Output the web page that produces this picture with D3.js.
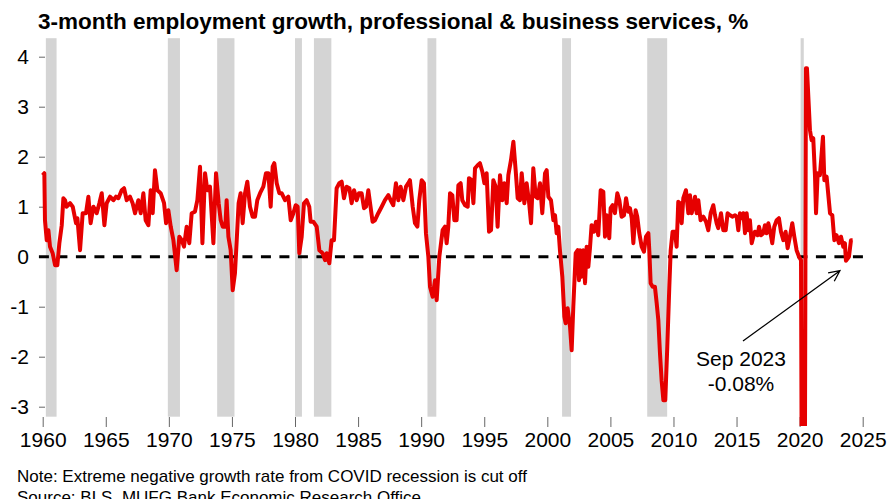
<!DOCTYPE html>
<html lang="en">
<head>
    <meta charset="UTF-8">
    <title>PBS employment growth</title>
    <style>
        body { margin: 0; background: #fff; }
        text { font-family: Arial, "Liberation Sans", sans-serif; }
    </style>
</head>
<body></body>
<script src="https://cdn.jsdelivr.net/npm/d3@7"></script>
<script>
    // recession periods (decimal years, peak -> trough)
    const recessions = [
        [1960.25, 1961.10], [1969.92, 1970.88], [1973.83, 1975.20],
        [1980.00, 1980.55], [1981.50, 1982.88], [1990.50, 1991.20],
        [2001.17, 2001.88], [2007.92, 2009.50], [2020.08, 2020.33]
    ];

    // 3-month growth, % ([year, value])
    const growth = [
        [1960.00, 1.63], [1960.13, 1.67], [1960.18, 0.73], [1960.32, 0.33], [1960.45, 0.53],
        [1960.58, 0.20], [1960.79, 0.07], [1960.98, -0.17], [1961.16, -0.17], [1961.32, 0.27],
        [1961.51, 0.63], [1961.64, 1.17], [1961.77, 1.13], [1961.90, 1.00], [1962.17, 1.07],
        [1962.38, 1.00], [1962.64, 0.67], [1962.75, 0.77], [1962.96, 0.13], [1963.17, 0.87],
        [1963.43, 0.87], [1963.62, 1.20], [1963.80, 0.67], [1964.02, 1.00], [1964.28, 0.87],
        [1964.49, 1.07], [1964.68, 1.27], [1964.89, 0.63], [1965.07, 1.07], [1965.34, 1.20],
        [1965.60, 1.13], [1965.81, 1.20], [1966.00, 1.17], [1966.26, 1.33], [1966.45, 1.37],
        [1966.66, 1.13], [1966.92, 1.20], [1967.13, 1.07], [1967.32, 0.87], [1967.58, 1.13],
        [1967.77, 0.87], [1967.98, 1.27], [1968.16, 0.73], [1968.38, 0.63], [1968.56, 1.33],
        [1968.72, 0.87], [1968.90, 1.73], [1969.09, 1.33], [1969.35, 1.27], [1969.62, 1.07],
        [1969.78, 0.67], [1969.96, 0.93], [1970.15, 0.60], [1970.36, 0.33], [1970.62, -0.27],
        [1970.83, 0.40], [1971.02, 0.33], [1971.20, 0.20], [1971.41, 0.60], [1971.62, 0.27],
        [1971.81, 0.87], [1972.07, 0.90], [1972.26, 1.13], [1972.47, 1.80], [1972.66, 0.27],
        [1972.87, 1.67], [1973.05, 1.33], [1973.26, 1.40], [1973.53, 0.27], [1973.74, 1.67],
        [1973.95, 1.07], [1974.11, 0.73], [1974.27, 0.60], [1974.48, 0.60], [1974.58, 1.13],
        [1974.72, 0.40], [1974.90, 0.13], [1975.06, -0.67], [1975.24, -0.33], [1975.38, 0.33],
        [1975.53, 1.07], [1975.69, 1.27], [1975.85, 0.67], [1976.04, 1.27], [1976.22, 1.50],
        [1976.43, 1.00], [1976.64, 0.80], [1976.83, 0.80], [1977.01, 1.13], [1977.23, 1.27],
        [1977.49, 1.40], [1977.70, 1.67], [1977.89, 1.67], [1978.07, 1.00], [1978.23, 1.80],
        [1978.36, 1.87], [1978.55, 1.47], [1978.76, 1.27], [1978.94, 1.27], [1979.21, 1.13],
        [1979.47, 1.20], [1979.66, 0.73], [1979.87, 0.87], [1980.05, 1.03], [1980.21, 1.00],
        [1980.34, 0.07], [1980.53, 0.40], [1980.71, 1.07], [1980.92, 1.13], [1981.13, 1.00],
        [1981.24, 0.70], [1981.45, 0.70], [1981.72, 0.60], [1981.93, 0.13], [1982.19, 0.07],
        [1982.38, -0.07], [1982.51, 0.07], [1982.72, -0.13], [1982.90, 0.33], [1983.09, 0.33],
        [1983.30, 1.37], [1983.51, 1.47], [1983.70, 1.50], [1983.88, 1.17], [1984.09, 1.40],
        [1984.31, 1.37], [1984.49, 1.07], [1984.68, 1.33], [1984.89, 1.13], [1985.07, 1.27],
        [1985.28, 1.27], [1985.47, 0.97], [1985.63, 1.00], [1985.81, 1.33], [1986.15, 0.70],
        [1986.34, 0.73], [1986.60, 0.87], [1986.87, 1.00], [1987.13, 1.13], [1987.40, 1.23],
        [1987.58, 1.13], [1987.79, 1.03], [1988.00, 1.47], [1988.19, 1.13], [1988.37, 1.40],
        [1988.59, 1.13], [1988.80, 1.40], [1988.98, 1.47], [1989.11, 1.53], [1989.33, 1.00],
        [1989.51, 0.67], [1989.70, 0.60], [1989.85, 1.13], [1990.04, 1.53], [1990.22, 1.47],
        [1990.38, 0.47], [1990.57, 0.00], [1990.70, -0.60], [1990.91, -0.80], [1991.10, -0.47],
        [1991.23, -0.87], [1991.44, 0.00], [1991.54, 0.20], [1991.70, 0.53], [1991.89, 0.60],
        [1992.02, 0.27], [1992.15, 0.60], [1992.29, 1.27], [1992.47, 1.23], [1992.63, 0.73],
        [1992.81, 0.73], [1992.95, 1.43], [1993.13, 1.47], [1993.26, 1.13], [1993.48, 1.03],
        [1993.69, 1.00], [1993.79, 1.57], [1994.00, 1.53], [1994.14, 1.07], [1994.27, 1.77],
        [1994.48, 1.83], [1994.66, 1.87], [1994.85, 1.70], [1995.01, 1.47], [1995.19, 1.67],
        [1995.38, 0.50], [1995.54, 0.53], [1995.72, 1.53], [1995.91, 1.40], [1996.06, 0.60],
        [1996.25, 1.63], [1996.43, 1.13], [1996.59, 1.47], [1996.78, 1.07], [1996.91, 1.63],
        [1997.12, 1.93], [1997.31, 2.30], [1997.49, 1.73], [1997.65, 1.17], [1997.83, 1.13],
        [1997.97, 1.67], [1998.18, 1.07], [1998.36, 1.47], [1998.55, 1.10], [1998.71, 0.67],
        [1998.89, 1.77], [1999.08, 1.20], [1999.23, 1.17], [1999.42, 1.47], [1999.60, 0.87],
        [1999.82, 1.67], [1999.95, 1.73], [2000.08, 1.20], [2000.29, 1.13], [2000.48, 0.73],
        [2000.61, 0.83], [2000.74, 0.47], [2000.87, 0.60], [2001.00, 0.13], [2001.19, -0.40],
        [2001.35, -1.20], [2001.45, -1.33], [2001.61, -1.03], [2001.80, -1.40], [2001.93, -1.87],
        [2002.06, -1.00], [2002.25, 0.07], [2002.41, 0.13], [2002.51, -0.47], [2002.59, 0.13],
        [2002.72, -0.40], [2002.85, 0.13], [2002.99, -0.53], [2003.12, 0.20], [2003.25, -0.20],
        [2003.38, 0.17], [2003.51, 0.63], [2003.70, 0.50], [2003.86, 0.70], [2004.04, 0.43],
        [2004.23, 1.33], [2004.44, 1.30], [2004.57, 0.40], [2004.70, 0.83], [2004.91, 0.37],
        [2005.02, 0.97], [2005.18, 1.03], [2005.36, 0.87], [2005.55, 1.27], [2005.71, 1.13],
        [2005.89, 0.80], [2006.08, 0.83], [2006.24, 1.17], [2006.42, 0.90], [2006.55, 0.97],
        [2006.69, 0.77], [2006.82, 0.27], [2007.00, 0.93], [2007.13, 0.80], [2007.29, 0.47],
        [2007.48, 0.20], [2007.66, 0.10], [2007.82, 0.40], [2008.01, 0.47], [2008.09, 0.10],
        [2008.19, -0.53], [2008.35, -0.60], [2008.53, -0.60], [2008.67, -0.93], [2008.80, -1.27],
        [2008.93, -1.93], [2009.06, -2.47], [2009.20, -2.87], [2009.35, -2.87], [2009.51, -1.80],
        [2009.67, -0.60], [2009.78, 0.13], [2009.93, 0.50], [2010.12, 0.50], [2010.25, 0.20],
        [2010.38, 1.10], [2010.52, 1.07], [2010.65, 0.67], [2010.78, 1.17], [2010.99, 1.33],
        [2011.18, 0.87], [2011.31, 1.23], [2011.44, 0.87], [2011.57, 1.00], [2011.71, 1.20],
        [2011.84, 0.87], [2011.97, 1.13], [2012.15, 0.73], [2012.37, 0.80], [2012.58, 0.70],
        [2012.76, 0.53], [2012.95, 0.87], [2013.16, 1.03], [2013.29, 0.83], [2013.42, 0.67],
        [2013.55, 0.57], [2013.77, 0.87], [2013.95, 0.53], [2014.14, 0.53], [2014.29, 0.87],
        [2014.48, 0.83], [2014.66, 0.80], [2014.88, 0.83], [2015.01, 0.80], [2015.14, 0.53],
        [2015.27, 0.87], [2015.40, 0.77], [2015.54, 0.87], [2015.67, 0.47], [2015.80, 0.87],
        [2015.93, 0.53], [2016.06, 0.73], [2016.20, 0.27], [2016.33, 0.40], [2016.46, 0.50],
        [2016.67, 0.43], [2016.78, 0.60], [2016.94, 0.43], [2017.12, 0.47], [2017.25, 0.63],
        [2017.39, 0.47], [2017.52, 0.67], [2017.65, 0.53], [2017.83, 0.27], [2017.99, 0.60],
        [2018.18, 0.73], [2018.36, 0.77], [2018.52, 0.50], [2018.71, 0.33], [2018.89, 0.50],
        [2019.05, 0.17], [2019.23, 0.40], [2019.42, 0.67], [2019.58, 0.40], [2019.76, 0.13],
        [2019.95, 0.00], [2020.11, -0.07], [2020.25, -11.0], [2020.33, -10.0], [2020.42, -4.0],
        [2020.50, 3.77], [2020.58, 3.77], [2020.82, 2.53], [2020.95, 2.33], [2021.08, 2.37],
        [2021.22, 1.60], [2021.30, 0.87], [2021.43, 1.67], [2021.61, 1.63], [2021.85, 2.40],
        [2021.96, 1.53], [2022.14, 1.60], [2022.41, 0.87], [2022.59, 0.83], [2022.75, 0.33],
        [2022.93, 0.43], [2023.12, 0.27], [2023.28, 0.40], [2023.46, 0.20], [2023.59, 0.27],
        [2023.67, -0.08], [2023.91, 0.00], [2024.07, 0.33], [2024.20, 0.33]
    ];

    const yTicks = [-3, -2, -1, 0, 1, 2, 3, 4];
    const xTicks = [1960, 1965, 1970, 1975, 1980, 1985, 1990, 1995, 2000, 2005, 2010, 2015, 2020, 2025];
    const callout = { year: 2023.67, value: -0.08, lines: ["Sep 2023", "-0.08%"] };

    const width = 889, height = 499;

    const x = d3.scaleLinear().domain([1960, 2025]).range([42.7, 862.7]);
    const y = d3.scaleLinear().domain([-3.4, 4.4]).range([426.7, 36.7]);

    const svg = d3.select("body").append("svg")
        .attr("width", width)
        .attr("height", height);

    svg.append("defs").append("clipPath").attr("id", "plot")
        .append("rect")
        .attr("x", 30).attr("y", 36)
        .attr("width", 850).attr("height", 390);

    svg.append("g").selectAll("rect")
        .data(recessions).enter().append("rect")
        .attr("x", d => x(d[0]))
        .attr("width", d => x(d[1]) - x(d[0]))
        .attr("y", y(4.37))
        .attr("height", y(-3.2) - y(4.37))
        .attr("fill", "#d4d4d4");

    // y axis (plain hyphen for negatives, like the original)
    const yAxis = svg.append("g")
        .attr("transform", "translate(45,0)")
        .call(d3.axisLeft(y).tickValues(yTicks).tickSize(6).tickPadding(10).tickFormat(d => String(d)));
    yAxis.select(".domain").remove();
    yAxis.selectAll("line").attr("stroke", "#666");
    yAxis.selectAll("text").attr("font-size", 21).attr("fill", "#000");

    // x axis
    const xAxis = svg.append("g")
        .attr("transform", "translate(0,417)")
        .call(d3.axisBottom(x).tickValues(xTicks).tickSize(10).tickPadding(5).tickFormat(d => String(d)));
    xAxis.select(".domain").remove();
    xAxis.selectAll("line").attr("stroke", "#666");
    xAxis.selectAll("text").attr("font-size", 21).attr("fill", "#000");

    svg.append("line")
        .attr("x1", x(1959.7)).attr("x2", x(2025.6))
        .attr("y1", y(0)).attr("y2", y(0))
        .attr("stroke", "#000")
        .attr("stroke-width", 3)
        .attr("stroke-dasharray", "10,8.5");

    const line = d3.line()
        .x(d => x(d[0]))
        .y(d => y(d[1]));

    svg.append("path")
        .datum(growth)
        .attr("clip-path", "url(#plot)")
        .attr("d", line)
        .attr("fill", "none")
        .attr("stroke", "#e60000")
        .attr("stroke-width", 4)
        .attr("stroke-linejoin", "round");

    // callout arrow
    const tip = [x(callout.year) - 6, y(callout.value) + 10];
    const tail = [743, 341];
    const ang = Math.atan2(tip[1] - tail[1], tip[0] - tail[0]);
    const head = 12;
    svg.append("path")
        .attr("d", `M${tail[0]},${tail[1]}L${tip[0]},${tip[1]}` +
            `M${tip[0] - head * Math.cos(ang - 0.45)},${tip[1] - head * Math.sin(ang - 0.45)}` +
            `L${tip[0]},${tip[1]}` +
            `L${tip[0] - head * Math.cos(ang + 0.45)},${tip[1] - head * Math.sin(ang + 0.45)}`)
        .attr("fill", "none")
        .attr("stroke", "#000")
        .attr("stroke-width", 1.3);

    svg.append("text")
        .attr("x", 741).attr("y", 366)
        .attr("text-anchor", "middle")
        .attr("font-size", 21)
        .selectAll("tspan").data(callout.lines).enter().append("tspan")
        .attr("x", 741)
        .attr("dy", (d, i) => i ? 25 : 0)
        .text(d => d);

    svg.append("text")
        .attr("x", 38).attr("y", 29)
        .attr("font-size", 22.5)
        .attr("font-weight", "bold")
        .text("3-month employment growth, professional & business services, %");

    svg.append("text")
        .attr("x", 17).attr("y", 482)
        .attr("font-size", 17)
        .text("Note: Extreme negative growth rate from COVID recession is cut off");

    svg.append("text")
        .attr("x", 17).attr("y", 503)
        .attr("font-size", 17)
        .text("Source: BLS, MUFG Bank Economic Research Office");
</script>
</html>
